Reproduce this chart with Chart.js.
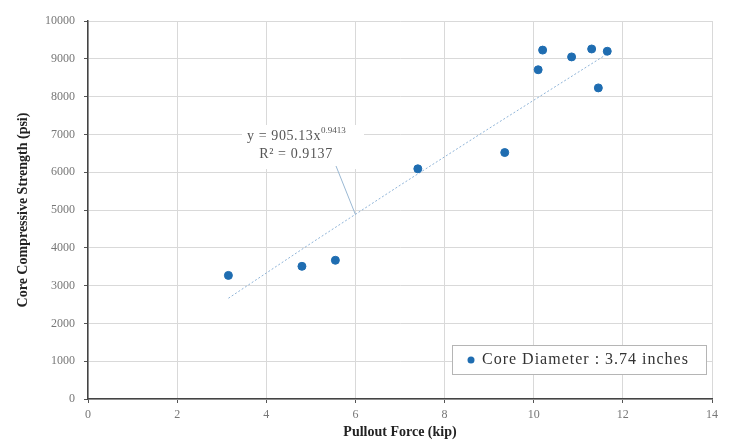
<!DOCTYPE html>
<html>
<head>
<meta charset="utf-8">
<script src="https://cdn.jsdelivr.net/npm/chart.js@4/dist/chart.umd.min.js"></script>
<style>
  html, body { margin: 0; padding: 0; background: #fff; }
  #wrap { width: 729px; height: 441px; position: relative; }
</style>
</head>
<body>
<div id="wrap"><canvas id="chart" width="729" height="441"></canvas></div>
<script>
// pullout force (kip) vs core strength (psi)
const pulloutForce = [3.15, 4.8, 5.55, 7.4, 9.35, 10.1, 10.2, 10.85, 11.3, 11.45, 11.65];
const coreStrength = [3270, 3510, 3670, 6090, 6520, 8710, 9230, 9050, 9260, 8230, 9200];

// power trendline as drawn on the picture
const trendX = [3.15, 5, 7, 9, 11.65];
const trendY = [2665, 4117, 5653, 7160, 9130];

const xTicks = [0, 2, 4, 6, 8, 10, 12, 14];
const yTicks = [0, 1000, 2000, 3000, 4000, 5000, 6000, 7000, 8000, 9000, 10000];

const serif = "'Liberation Serif', 'DejaVu Serif', serif";
const dotColor = '#1f6db1';

const scatterData = pulloutForce.map((x, i) => ({ x: x, y: coreStrength[i] }));
const trendData = trendX.map((x, i) => ({ x: x, y: trendY[i] }));

// equation label, its leader line and the legend box
const extras = {
    id: 'extras',
    afterDatasetsDraw(chart) {
        const ctx = chart.ctx;
        const xs = chart.scales.x, ys = chart.scales.y;
        ctx.save();

        // label background
        ctx.fillStyle = '#fff';
        ctx.fillRect(242, 125, 122, 44);

        // leader line from the label to the trendline
        ctx.strokeStyle = '#9ab8d3';
        ctx.lineWidth = 1;
        ctx.beginPath();
        ctx.moveTo(336, 166);
        ctx.lineTo(xs.getPixelForValue(6), ys.getPixelForValue(4880));
        ctx.stroke();

        ctx.fillStyle = '#555';
        ctx.textBaseline = 'alphabetic';
        ctx.letterSpacing = '0.6px';
        ctx.font = '14px ' + serif;
        ctx.textAlign = 'left';
        const main = 'y = 905.13x';
        ctx.fillText(main, 247, 140);
        const w = ctx.measureText(main).width;
        ctx.font = '9px ' + serif;
        ctx.letterSpacing = '0px';
        ctx.fillText('0.9413', 247 + w, 133);
        ctx.letterSpacing = '0.6px';
        ctx.font = '14px ' + serif;
        ctx.textAlign = 'center';
        ctx.fillText('R² = 0.9137', 296, 158);

        // legend
        const lx = 452, ly = 345, lw = 254, lh = 29;
        ctx.fillStyle = '#fff';
        ctx.fillRect(lx, ly, lw, lh);
        ctx.strokeStyle = '#b5b5b5';
        ctx.strokeRect(lx + 0.5, ly + 0.5, lw, lh);
        ctx.fillStyle = dotColor;
        ctx.beginPath();
        ctx.arc(lx + 19, ly + 15, 3.5, 0, Math.PI * 2);
        ctx.fill();
        ctx.fillStyle = '#333';
        ctx.textAlign = 'left';
        ctx.textBaseline = 'middle';
        ctx.letterSpacing = '1px';
        ctx.font = '16px ' + serif;
        ctx.fillText('Core Diameter : 3.74 inches', lx + 30, ly + 15);

        ctx.restore();
    }
};

new Chart(document.getElementById('chart'), {
    type: 'scatter',
    data: {
        datasets: [
            {
                label: 'Trend',
                type: 'line',
                data: trendData,
                borderColor: '#8fb4d8',
                borderWidth: 1,
                borderDash: [2, 2],
                pointRadius: 0,
                fill: false,
                order: 2
            },
            {
                label: 'Core Diameter : 3.74 inches',
                data: scatterData,
                backgroundColor: dotColor,
                borderColor: dotColor,
                pointRadius: 4,
                order: 1
            }
        ]
    },
    options: {
        responsive: false,
        animation: false,
        layout: { padding: { top: 21, right: 17, left: 15, bottom: 0 } },
        plugins: {
            legend: { display: false },
            tooltip: { enabled: false }
        },
        scales: {
            x: {
                type: 'linear',
                min: 0, max: 14,
                afterBuildTicks: s => { s.ticks = xTicks.map(v => ({ value: v })); },
                afterFit: s => { s.height = 42; },
                grid: { color: '#d9d9d9', tickLength: 4, tickColor: '#555' },
                border: { color: '#444', width: 1.5 },
                ticks: {
                    color: '#777', font: { family: serif, size: 12 }, padding: 5,
                    callback: v => String(v)
                },
                title: {
                    display: true,
                    text: 'Pullout Force (kip)',
                    color: '#222',
                    font: { family: serif, size: 14, weight: 'bold' },
                    padding: { top: 0, bottom: 0 }
                }
            },
            y: {
                type: 'linear',
                min: 0, max: 10000,
                afterBuildTicks: s => { s.ticks = yTicks.map(v => ({ value: v })); },
                afterFit: s => { s.width = 73; },
                grid: { color: '#d9d9d9', tickLength: 4, tickColor: '#555' },
                border: { color: '#444', width: 1.5 },
                ticks: {
                    color: '#777', font: { family: serif, size: 12 }, padding: 9,
                    callback: v => String(v)
                },
                title: {
                    display: true,
                    text: 'Core Compressive Strength (psi)',
                    color: '#222',
                    font: { family: serif, size: 14, weight: 'bold' },
                    padding: { top: 0, bottom: 4 }
                }
            }
        }
    },
    plugins: [extras]
});
</script>
</body>
</html>
